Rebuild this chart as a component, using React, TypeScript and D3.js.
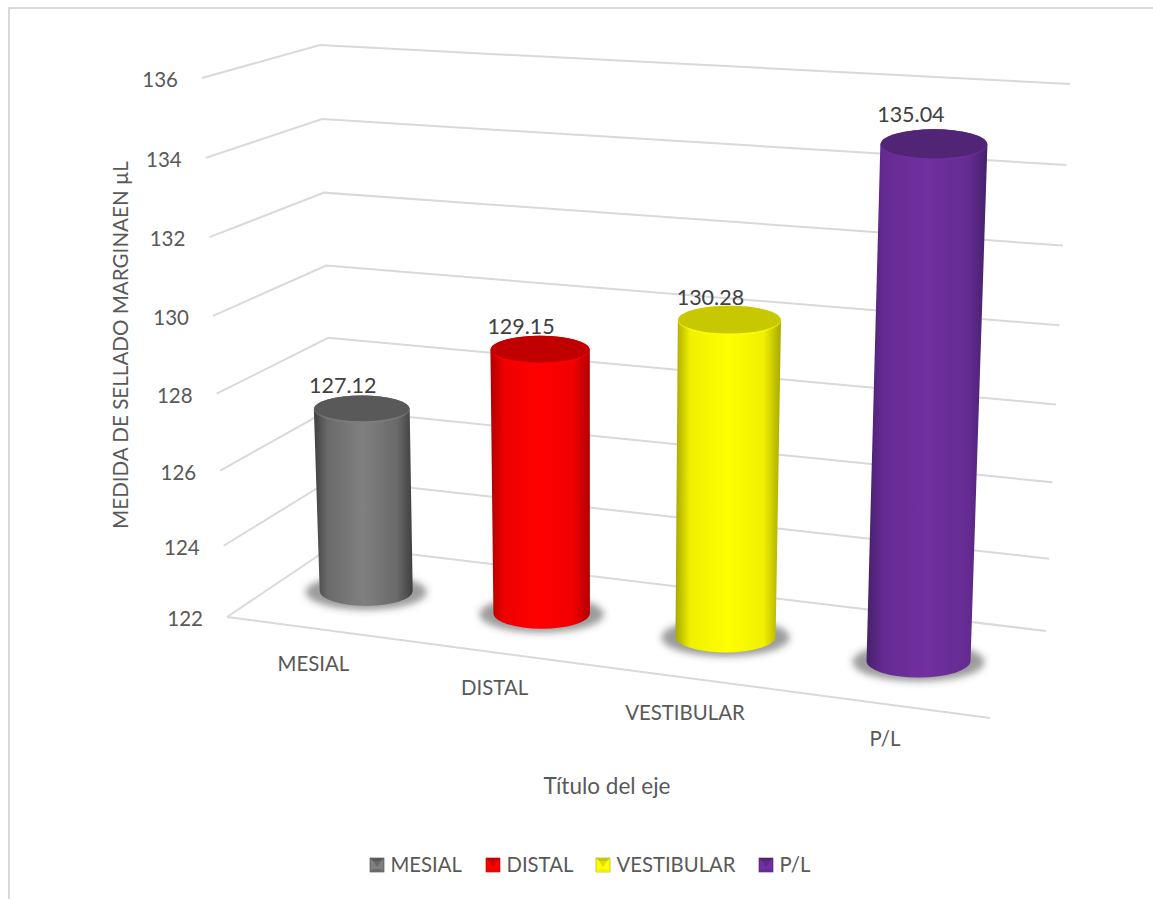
import React from "react";
import * as d3 from "d3";

const categories = ["MESIAL", "DISTAL", "VESTIBULAR", "P/L"];
const values = [127.12, 129.15, 130.28, 135.04];
const yTicks = [122, 124, 126, 128, 130, 132, 134, 136];
const sideDark = ["#3f3f3f", "#b00000", "#a8a800", "#45206b"];
const sideMid = ["#6a6a6a", "#f00000", "#f0f000", "#652b92"];
const sideLight = ["#808080", "#ff0000", "#ffff00", "#7030a0"];
const capFill = ["#595959", "#c00000", "#c8c800", "#512476"];

type Pt = [number, number];

// Solves the perspective transform taking the unit square onto a quad
// ordered front-left, back-left, back-right, front-right.
function quadProjection(q: Pt[]) {
  const [p0, p3, p2, p1] = q;
  const dx1 = p1[0] - p2[0], dx2 = p3[0] - p2[0], sx = p0[0] - p1[0] + p2[0] - p3[0];
  const dy1 = p1[1] - p2[1], dy2 = p3[1] - p2[1], sy = p0[1] - p1[1] + p2[1] - p3[1];
  const det = dx1 * dy2 - dx2 * dy1;
  const g = (sx * dy2 - dx2 * sy) / det;
  const h = (dx1 * sy - sx * dy1) / det;
  return (u: number, v: number): Pt => {
    const w = g * u + h * v + 1;
    return [
      ((p1[0] - p0[0] + g * p1[0]) * u + (p3[0] - p0[0] + h * p3[0]) * v + p0[0]) / w,
      ((p1[1] - p0[1] + g * p1[1]) * u + (p3[1] - p0[1] + h * p3[1]) * v + p0[1]) / w,
    ];
  };
}

// Wall edges of the 3D box: the corner's pixel position at the lowest and highest tick.
const FRONT_LEFT: [Pt, Pt] = [[227, 617], [202, 78]];
const BACK_LEFT: [Pt, Pt] = [[334, 545], [320, 45]];
const BACK_RIGHT: [Pt, Pt] = [[1046, 631], [1070, 84]];
const FRONT_RIGHT_FLOOR: Pt = [990, 718];

const floor = quadProjection([FRONT_LEFT[0], BACK_LEFT[0], BACK_RIGHT[0], FRONT_RIGHT_FLOOR]);
// The camera looks slightly down, so tick spacing widens toward the top of the walls.
const level = d3.scalePow().exponent(1.04).domain([0, 14]).range([0, 1]);

function onEdge(edge: [Pt, Pt], value: number): Pt {
  const t = level(value - 122);
  return [edge[0][0] + (edge[1][0] - edge[0][0]) * t, edge[0][1] + (edge[1][1] - edge[0][1]) * t];
}

// Columns rising from the floor lean away from a vertical vanishing point and grow
// slightly taller toward the viewer's side of the box.
function rise(base: Pt, value: number): Pt {
  const units = value - 122;
  const perUnit = 37.2 + 0.0036 * (base[0] - 600) + 0.03 * (base[1] - 620);
  return [base[0] + (base[0] - 600) * 0.0037 * units, base[1] - perUnit * units];
}

const slot = d3.scaleBand<number>().domain(d3.range(categories.length)).range([0, 1]);
const centerU = (i: number) => (slot(i) ?? 0) + slot.bandwidth() / 2;
const DEPTH = 0.49;
const barRadius = d3.scaleLinear().domain([366, 920]).range([46.5, 52]);
// The tallest bar's label sits further from its cap than the others.
const labelNudge: Pt[] = [[0, 0], [0, 0], [0, 0], [-4, -7]];

function gridPath(value: number) {
  return d3.line()([onEdge(FRONT_LEFT, value), onEdge(BACK_LEFT, value), onEdge(BACK_RIGHT, value)]) ?? "";
}

function Cylinder({ index, value }: { index: number; value: number }) {
  const base = floor(centerU(index), DEPTH);
  const top = rise(base, value);
  const rx0 = barRadius(base[0]);
  const rx1 = rx0 * 1.03;
  const ry0 = rx0 * 0.32;
  const ry1 = rx1 * 0.29;
  const side =
    `M${top[0] - rx1},${top[1]} L${base[0] - rx0},${base[1]} ` +
    `A${rx0},${ry0} 0 0 0 ${base[0] + rx0},${base[1]} ` +
    `L${top[0] + rx1},${top[1]} A${rx1},${ry1} 0 0 0 ${top[0] - rx1},${top[1]} Z`;
  return (
    <g>
      <ellipse cx={base[0]} cy={base[1] + 1} rx={rx0 + 14} ry={ry0 + 3} fill="#404040" fillOpacity={0.52} filter="url(#floorShadow)" />
      <path d={side} fill={`url(#side${index})`} />
      <ellipse cx={top[0]} cy={top[1]} rx={rx1} ry={ry1} fill={sideLight[index]} fillOpacity={0.55} />
      <ellipse cx={top[0]} cy={top[1] - 1} rx={rx1 - 0.5} ry={ry1 - 1} fill={capFill[index]} />
    </g>
  );
}

function LegendKey({ x, y, index }: { x: number; y: number; index: number }) {
  const s = 14;
  const i = 3;
  return (
    <g transform={`translate(${x},${y})`}>
      <rect width={s} height={s} fill={sideLight[index]} stroke={sideDark[index]} strokeWidth={0.6} />
      <polygon points={`0,0 ${s},0 ${s - i},${i} ${i},${i}`} fill={capFill[index]} />
      <polygon points={`0,${s} ${s},${s} ${s - i},${s - i} ${i},${s - i}`} fill={sideMid[index]} />
      <polygon points={`${i},${i} ${s - i},${i} ${s / 2},${s / 2 + 2}`} fill={capFill[index]} fillOpacity={0.6} />
    </g>
  );
}

export default function App() {
  const legendX = [370, 486, 596, 759];
  const font = "Lato, 'Open Sans', sans-serif";
  return (
    <svg width={1153} height={899} style={{ position: "absolute", left: 0, top: 0 }} fontFamily={font}>
      <defs>
        {categories.map((_, i) => (
          <linearGradient key={i} id={`side${i}`} x1="0" x2="1" y1="0" y2="0">
            <stop offset="0" stopColor={sideDark[i]} />
            <stop offset="0.14" stopColor={sideMid[i]} />
            <stop offset="0.5" stopColor={sideLight[i]} />
            <stop offset="0.84" stopColor={sideMid[i]} />
            <stop offset="1" stopColor={sideDark[i]} />
          </linearGradient>
        ))}
        <filter id="floorShadow" x="-30%" y="-60%" width="160%" height="220%">
          <feGaussianBlur stdDeviation="3.5" />
        </filter>
      </defs>

      <rect x={0} y={0} width={1153} height={899} fill="#fff" />
      <path d="M9,899 L9,8 L1153,8" fill="none" stroke="#d9d9d9" strokeWidth={2} />

      <g fill="none" stroke="#d9d9d9" strokeWidth={2}>
        {yTicks.map((t) => (
          <path key={t} d={gridPath(t)} />
        ))}
        <path d={d3.line()([FRONT_LEFT[0], FRONT_RIGHT_FLOOR]) ?? ""} />
      </g>

      {yTicks.map((t) => {
        const p = onEdge(FRONT_LEFT, t);
        return (
          <text key={t} x={p[0] - 24} y={p[1] + 9} textAnchor="end" fontSize={20.5} fill="#595959">
            {t}
          </text>
        );
      })}

      {categories.map((c, i) => {
        const p = floor(centerU(i), 0);
        return (
          <text key={c} x={p[0] - 1} y={p[1] + 42} textAnchor="middle" fontSize={20.4} fill="#595959">
            {c}
          </text>
        );
      })}

      {values.map((v, i) => (
        <Cylinder key={categories[i]} index={i} value={v} />
      ))}

      {values.map((v, i) => {
        const p = rise(floor(centerU(i), DEPTH), v);
        return (
          <text
            key={i}
            x={p[0] - 19 + labelNudge[i][0]}
            y={p[1] - 16 + labelNudge[i][1]}
            textAnchor="middle"
            fontSize={21.5}
            fill="#404040"
          >
            {v.toFixed(2)}
          </text>
        );
      })}

      <text transform="translate(128,345) rotate(-90)" textAnchor="middle" fontSize={20.6} fill="#595959">
        MEDIDA DE SELLADO MARGINAEN µL
      </text>
      <text x={607} y={794} textAnchor="middle" fontSize={22.5} fill="#595959">
        Título del eje
      </text>

      {categories.map((c, i) => (
        <g key={c}>
          <LegendKey x={legendX[i]} y={858} index={i} />
          <text x={legendX[i] + 20.5} y={872} fontSize={20.3} fill="#595959">
            {c}
          </text>
        </g>
      ))}
    </svg>
  );
}
